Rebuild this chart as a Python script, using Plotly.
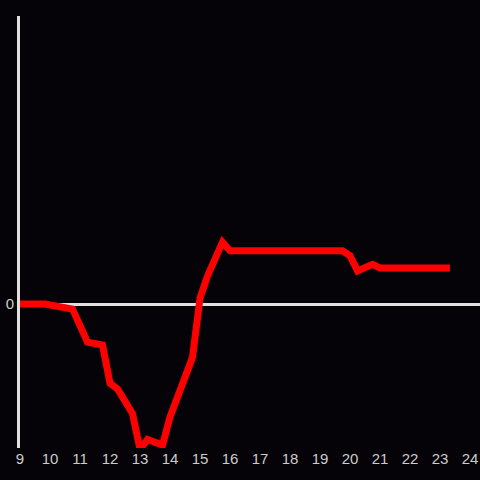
import plotly.graph_objects as go

hours = [9, 9.83, 10.75, 11.25, 11.75, 12, 12.25, 12.75, 13, 13.25, 13.75, 14,
         14.75, 15, 15.25, 15.75, 16, 19.75, 20, 20.25, 20.75, 21, 23.33]
values = [0, 0, -3.5, -26.5, -28.5, -55, -59, -76, -101, -94, -98, -78.5,
          -37, 4, 19.5, 43, 37, 37, 33.5, 23, 27.5, 25, 25]

x_ticks = list(range(9, 25))

fig = go.Figure()
fig.add_trace(go.Scatter(x=hours, y=values, mode="lines",
                         line=dict(color="#ff0000", width=7),
                         showlegend=False, hoverinfo="skip", cliponaxis=False))

fig.update_layout(
    width=480, height=480,
    margin=dict(l=20, r=0, t=16, b=32),
    paper_bgcolor="#050308", plot_bgcolor="#050308",
    font=dict(family="Liberation Sans, Arial, sans-serif", size=15, color="#cccccc"),
    xaxis=dict(range=[9, 24.333], tickvals=x_ticks, showgrid=False, zeroline=False,
               showline=False, ticks="", ticklen=0, tickfont=dict(size=15),
               automargin=False),
    yaxis=dict(range=[-100, 200], tickvals=[0], showgrid=False, zeroline=True,
               zerolinecolor="#e0e0e0", zerolinewidth=3, showline=True,
               linecolor="#e0e0e0", linewidth=3, ticks="", ticklen=0,
               tickfont=dict(size=15), automargin=False),
)

fig.write_html("out.html", config={"displayModeBar": False},
               post_script="document.body.style.margin='0';document.body.style.background='#050308';")
